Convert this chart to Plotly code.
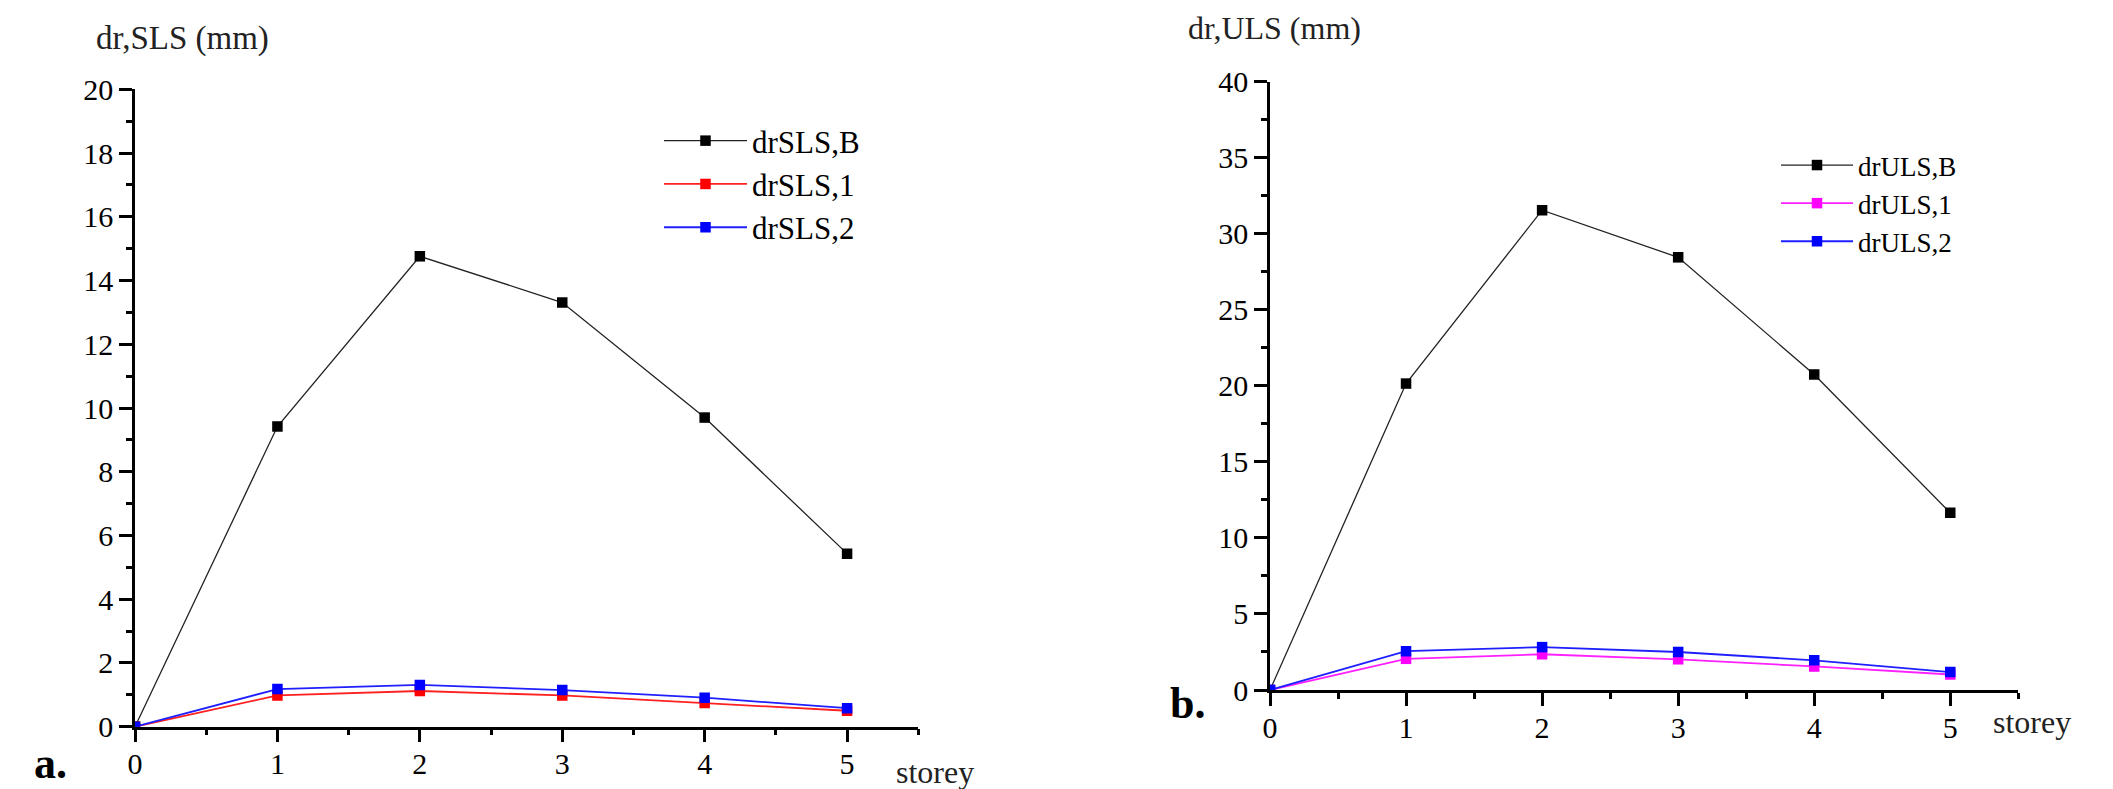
import plotly.graph_objects as go

# ---- data ----
storey = [0, 1, 2, 3, 4, 5]
sls_B = [0, 9.42, 14.76, 13.31, 9.70, 5.43]
sls_1 = [0, 0.98, 1.12, 0.98, 0.74, 0.50]
sls_2 = [0, 1.18, 1.31, 1.15, 0.91, 0.58]
uls_B = [0, 20.15, 31.55, 28.45, 20.75, 11.65]
uls_1 = [0, 2.05, 2.35, 2.02, 1.55, 1.02]
uls_2 = [0, 2.55, 2.82, 2.50, 1.95, 1.18]

sls_names = ["drSLS,B", "drSLS,1", "drSLS,2"]
uls_names = ["drULS,B", "drULS,1", "drULS,2"]

W, H = 2113, 789
FONT = "Liberation Serif"

def px_x(p):
    return p / W

def px_y(p):
    return 1 - p / H

# plot areas (pixels)
L = dict(x0=135, x1=918.3, y0=89.3, y1=726.7)
R = dict(x0=1270, x1=2018.3, y0=81.7, y1=690)

fig = go.Figure()

def add_series(xs, ys, name, color, lcolor, xa, ya, legend, lw):
    fig.add_trace(go.Scatter(
        x=xs, y=ys, name=name, mode="lines+markers",
        line=dict(color=lcolor, width=lw),
        marker=dict(symbol="square", size=10.5, color=color),
        xaxis=xa, yaxis=ya, legend=legend,
    ))

add_series(storey, sls_B, sls_names[0], "black", "#222222", "x", "y", "legend", 1.3)
add_series(storey, sls_1, sls_names[1], "#FF0000", "#FF2020", "x", "y", "legend", 1.8)
add_series(storey, sls_2, sls_names[2], "#0000FF", "#2020FF", "x", "y", "legend", 1.8)
add_series(storey, uls_B, uls_names[0], "black", "#222222", "x2", "y2", "legend2", 1.3)
add_series(storey, uls_1, uls_names[1], "#FF00FF", "#FF20FF", "x2", "y2", "legend2", 1.8)
add_series(storey, uls_2, uls_names[2], "#0000FF", "#2020FF", "x2", "y2", "legend2", 1.8)

tickfont = dict(family=FONT, size=30, color="black")
greyfont = dict(family=FONT, size=30, color="#404040")

def xbottom(dom, anchor):
    return dict(domain=dom, anchor=anchor, range=[0, 5.5], tick0=0, dtick=1,
                ticks="outside", ticklen=13, tickwidth=2.5, tickcolor="black",
                minor=dict(dtick=0.5, tick0=0, ticks="outside", ticklen=6, tickwidth=2.5, tickcolor="black"),
                showline=True, linewidth=2.5, linecolor="black", showgrid=False, zeroline=False,
                tickfont=tickfont, automargin=False, ticklabelstandoff=-4)

def xtop(over, anchor):
    return dict(overlaying=over, anchor=anchor, side="top", range=[0, 5.5], tick0=0, dtick=0.5,
                ticks="inside", ticklen=7, tickwidth=2.5, tickcolor="black",
                showticklabels=False, showline=True, linewidth=2.5, linecolor="black",
                showgrid=False, zeroline=False, automargin=False)

def yleft(dom, anchor, rng, dt, mdt):
    return dict(domain=dom, anchor=anchor, range=rng, tick0=0, dtick=dt,
                ticks="outside", ticklen=13, tickwidth=2.5, tickcolor="black",
                minor=dict(dtick=mdt, tick0=0, ticks="outside", ticklen=6, tickwidth=2.5, tickcolor="black"),
                showline=True, linewidth=2.5, linecolor="black", showgrid=False, zeroline=False,
                tickfont=tickfont, automargin=False)

def yright(over, anchor, rng, dt, mdt):
    return dict(overlaying=over, anchor=anchor, side="right", range=rng, tick0=0, dtick=dt,
                ticks="outside", ticklen=13, tickwidth=2.5, tickcolor="#404040",
                minor=dict(dtick=mdt, tick0=0, ticks="outside", ticklen=6, tickwidth=2.5, tickcolor="#404040"),
                showline=True, linewidth=2.5, linecolor="#404040", showgrid=False, zeroline=False,
                tickfont=greyfont, automargin=False)

fig.update_layout(
    width=W, height=H, margin=dict(l=0, r=0, t=0, b=0, pad=0, autoexpand=False),
    paper_bgcolor="white", plot_bgcolor="white",
    font=dict(family=FONT, color="black"),
    xaxis=xbottom([px_x(L["x0"]), px_x(L["x1"])], "y"),
    yaxis=yleft([px_y(L["y1"]), px_y(L["y0"])], "x", [0, 20], 2, 1),
    xaxis3=xtop("x", "y"),
    yaxis3=yright("y", "x", [0, 20], 2, 1),
    xaxis2=xbottom([px_x(R["x0"]), px_x(R["x1"])], "y2"),
    yaxis2=yleft([px_y(R["y1"]), px_y(R["y0"])], "x2", [0, 40], 5, 2.5),
    xaxis4=xtop("x2", "y2"),
    yaxis4=yright("y2", "x2", [0, 40], 5, 2.5),
    legend=dict(x=px_x(659), y=px_y(114), xanchor="left", yanchor="top",
                font=dict(family=FONT, size=31, color="black"),
                bgcolor="rgba(0,0,0,0)", itemwidth=83, tracegroupgap=0),
    legend2=dict(x=px_x(1776), y=px_y(141), xanchor="left", yanchor="top",
                 font=dict(family=FONT, size=27, color="black"),
                 bgcolor="rgba(0,0,0,0)", itemwidth=72, tracegroupgap=0),
    showlegend=True,
)

ann = [
    ("dr,SLS (mm)", 182, 38, 33, False),
    ("storey", 935, 772, 32, False),
    ("a.", 50, 763, 44, True),
    ("dr,ULS (mm)", 1274, 28, 32, False),
    ("storey", 2032, 722, 32, False),
    ("b.", 1187, 703, 44, True),
]
for text, cx, cy, size, bold in ann:
    fig.add_annotation(
        text=f"<b>{text}</b>" if bold else text,
        x=px_x(cx), y=px_y(cy), xref="paper", yref="paper",
        xanchor="center", yanchor="middle", showarrow=False,
        font=dict(family=FONT, size=size, color="#222222" if not bold else "black"),
    )

fig.write_html("out.html", config={"displayModeBar": False},
               post_script="document.body.style.margin='0';")
